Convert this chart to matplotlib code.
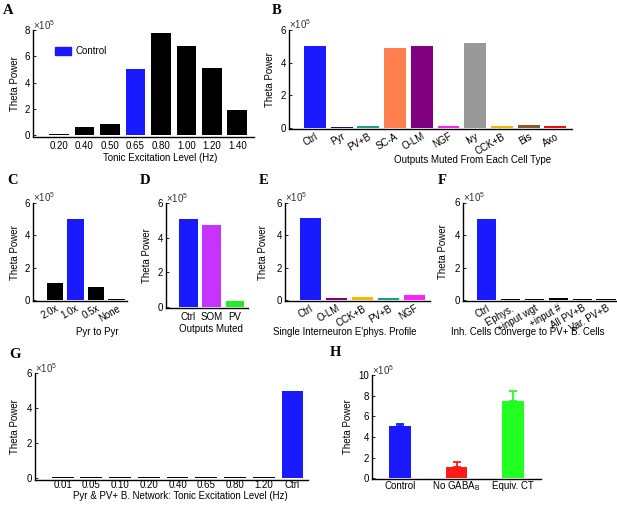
import matplotlib
matplotlib.use("Agg")
import matplotlib.pyplot as plt
import numpy as np

plt.rcParams['font.family'] = ['Liberation Sans', 'DejaVu Sans']
plt.rcParams['font.size'] = 7
plt.rcParams['mathtext.default'] = 'regular'

W, H = 617, 512
BLUE = '#1a1aff'

# A: tonic excitation sweep
a_labels = ['0.20', '0.40', '0.50', '0.65', '0.80', '1.00', '1.20', '1.40']
a_values = [0.08e5, 0.6e5, 0.85e5, 5.05e5, 7.8e5, 6.8e5, 5.1e5, 1.9e5]
a_colors = ['k', 'k', 'k', BLUE, 'k', 'k', 'k', 'k']

# B: outputs muted per cell type
b_labels = ['Ctrl', 'Pyr', 'PV+B', 'SC-A', 'O-LM', 'NGF', 'Ivy', 'CCK+B', 'Bis', 'Axo']
b_values = [5.0e5, 0.08e5, 0.14e5, 4.9e5, 5.05e5, 0.12e5, 5.23e5, 0.12e5, 0.18e5, 0.1e5]
b_colors = [BLUE, '#10106e', '#1aa08c', '#ff7f4f', '#800080', '#ff22ff',
            '#999999', '#f5b800', '#8b5a2b', '#ee1111']

# C: pyr to pyr
c_labels = ['2.0x', '1.0x', '0.5x', 'None']
c_values = [1.07e5, 5.04e5, 0.8e5, 0.08e5]
c_colors = ['k', BLUE, 'k', 'k']

# D: outputs muted
d_labels = ['Ctrl', 'SOM', 'PV']
d_values = [5.05e5, 4.72e5, 0.35e5]
d_colors = [BLUE, '#c832ff', '#22ee22']

# E: single interneuron ephys profile
e_labels = ['Ctrl', 'O-LM', 'CCK+B', 'PV+B', 'NGF']
e_values = [5.05e5, 0.1e5, 0.16e5, 0.12e5, 0.3e5]
e_colors = [BLUE, '#800080', '#f5b800', '#1aa08c', '#ff22ff']

# F: inh. cells converge to PV+ B. cells
f_labels = ['Ctrl', "E'phys.", '+input wgt', '+input #', 'All PV+B', 'Var. PV+B']
f_values = [5.0e5, 0.08e5, 0.08e5, 0.13e5, 0.08e5, 0.08e5]
f_colors = [BLUE, 'k', 'k', 'k', 'k', 'k']

# G: pyr & PV+ B. network sweep
g_labels = ['0.01', '0.05', '0.10', '0.20', '0.40', '0.65', '0.80', '1.20', 'Ctrl']
g_values = [0.1e5, 0.08e5, 0.08e5, 0.08e5, 0.08e5, 0.08e5, 0.08e5, 0.08e5, 5.0e5]
g_colors = ['k'] * 8 + [BLUE]

# H: GABA_B
h_labels = ['Control', 'No GABA$_\\mathregular{B}$', 'Equiv. CT']
h_values = [5.05e5, 1.13e5, 7.5e5]
h_errors = [0.25e5, 0.42e5, 0.95e5]
h_colors = [BLUE, '#ff1a1a', '#22ff22']

fig = plt.figure(figsize=(W / 100, H / 100), dpi=100)


def make_ax(x0, x1, ytop, ybot):
    return fig.add_axes([x0 / W, 1 - ybot / H, (x1 - x0) / W, (ybot - ytop) / H])


def style(ax, box, ylim, yticks, xlim, ylab_x, xlab=None, xlabel=None):
    x0, x1, ytop, ybot = box
    ax.set_ylim(*ylim)
    ax.set_xlim(*xlim)
    ax.set_yticks(yticks)
    ax.set_yticklabels([str(t) for t in yticks])
    for s in ['top', 'right']:
        ax.spines[s].set_visible(False)
    for s in ['left', 'bottom']:
        ax.spines[s].set_linewidth(1.0)
    ax.tick_params(direction='in', length=2, width=0.6, pad=2, labelsize=7)
    ax.tick_params(axis='x', length=0, pad=1.5)
    ax.text(0.0, 0.985, '×10$^{5}$', transform=ax.transAxes, fontsize=7,
            ha='left', va='bottom', color='#333333')
    ax.set_ylabel('Theta Power', fontsize=7, va='center')
    ax.yaxis.set_label_coords((ylab_x - x0) / (x1 - x0), 0.5)
    if xlabel:
        lx, ly = xlab
        ax.set_xlabel(xlabel, fontsize=7, va='center')
        ax.xaxis.set_label_coords((lx - x0) / (x1 - x0), (ybot - ly) / (ybot - ytop))


def bars(ax, labels, values, colors, width, rot=0):
    pos = np.arange(len(labels))
    ax.bar(pos, np.array(values) / 1e5, width=width, color=colors)
    ax.set_xticks(pos)
    if rot:
        ax.set_xticklabels(labels, rotation=rot, ha='right', rotation_mode='anchor')
    else:
        ax.set_xticklabels(labels)
    return pos


def letter(x, y, s):
    fig.text(x / W, 1 - y / H, s, fontsize=10.5, fontweight='bold',
             family='Liberation Serif', ha='center', va='center')


# A
box = (33, 254, 30, 136.5)
ax = make_ax(*box)
bars(ax, a_labels, a_values, a_colors, 0.78)
style(ax, box, (-0.1, 8), [0, 2, 4, 6, 8], (-1.02, 7.65), 15, (160, 158),
      'Tonic Excitation Level (Hz)')
ax.tick_params(axis='x', pad=3.5)
ax.legend(handles=[plt.Rectangle((0, 0), 1, 1, color=BLUE)], labels=['Control'],
          loc='upper left', bbox_to_anchor=(0.06, 0.93), frameon=False,
          fontsize=7, handlelength=1.6, handleheight=0.9, handletextpad=0.5)

# B
box = (289, 572, 30, 129.2)
ax = make_ax(*box)
bars(ax, b_labels, b_values, b_colors, 0.82, rot=30)
style(ax, box, (-0.07, 6), [0, 2, 4, 6], (-0.97, 9.62), 270, (473, 160),
      'Outputs Muted From Each Cell Type')

# C
box = (33, 127, 203, 301.2)
ax = make_ax(*box)
bars(ax, c_labels, c_values, c_colors, 0.8, rot=30)
style(ax, box, (-0.07, 6), [0, 2, 4, 6], (-1.07, 3.5), 15, (97, 332),
      'Pyr to Pyr')

# D
box = (166, 248, 203, 308)
ax = make_ax(*box)
bars(ax, d_labels, d_values, d_colors, 0.8)
style(ax, box, (-0.07, 6), [0, 2, 4, 6], (-0.97, 2.56), 147, (211, 329),
      'Outputs Muted')
ax.tick_params(axis='x', pad=3)

# E
box = (285, 430, 203, 301.2)
ax = make_ax(*box)
bars(ax, e_labels, e_values, e_colors, 0.8, rot=30)
style(ax, box, (-0.07, 6), [0, 2, 4, 6], (-0.96, 4.59), 263, (345, 332),
      "Single Interneuron E'phys. Profile")

# F
box = (463, 617, 202.5, 301.2)
ax = make_ax(*box)
bars(ax, f_labels, f_values, f_colors, 0.8, rot=30)
style(ax, box, (-0.07, 6), [0, 2, 4, 6], (-0.98, 5.46), 443, (528, 332),
      'Inh. Cells Converge to PV+ B. Cells')

# G
box = (35, 308, 373.3, 479.5)
ax = make_ax(*box)
bars(ax, g_labels, g_values, g_colors, 0.76)
style(ax, box, (-0.07, 6), [0, 2, 4, 6], (-0.96, 8.54), 15, (180, 496),
      'Pyr & PV+ B. Network: Tonic Excitation Level (Hz)')
ax.tick_params(axis='x', pad=0.3)

# H
box = (372, 541, 375, 479)
ax = make_ax(*box)
pos = bars(ax, h_labels, h_values, h_colors, 0.39)
for p, v, e, c in zip(pos, h_values, h_errors, h_colors):
    ax.errorbar(p, v / 1e5, yerr=[[0], [e / 1e5]], color=c, capsize=3,
                elinewidth=1.3, capthick=1.3)
style(ax, box, (-0.07, 10), [0, 2, 4, 6, 8, 10], (-0.5, 2.5), 348)
ax.tick_params(axis='x', pad=7.5)
for lbl in ax.get_xticklabels():
    lbl.set_verticalalignment('baseline')

letter(8, 10, 'A')
letter(277, 10, 'B')
letter(13, 181, 'C')
letter(145, 181, 'D')
letter(264, 181, 'E')
letter(442, 180, 'F')
letter(15, 354, 'G')
letter(335, 352, 'H')

fig.savefig('out.png', dpi=100)
